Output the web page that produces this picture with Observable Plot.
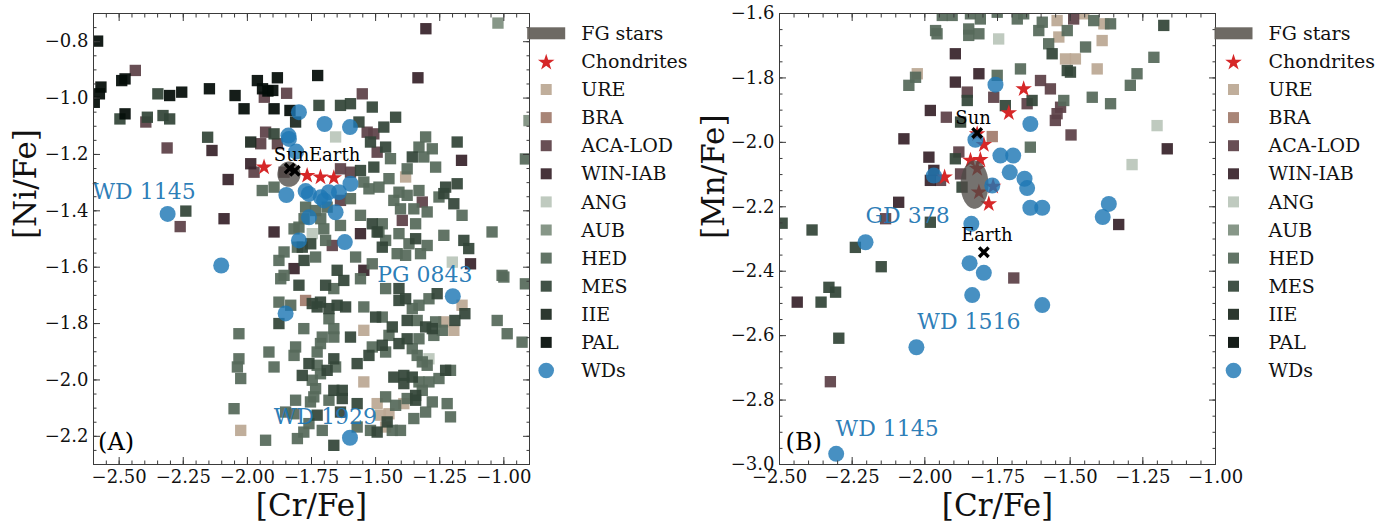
<!DOCTYPE html>
<html><head><meta charset="utf-8">
<script src="https://cdn.jsdelivr.net/npm/d3@7"></script>
<script src="https://cdn.jsdelivr.net/npm/@observablehq/plot@0.6"></script>
<style>
body{margin:0;background:#fff;}
#wrap{position:relative;width:1387px;height:524px;overflow:hidden;background:#fff;font-family:"DejaVu Serif";}
#wrap svg{position:absolute;top:0;overflow:visible;}
</style></head><body><div id="wrap"></div>
<script>
// ---------------- categories & colours ----------------
const categories = ["URE","BRA","ACA-LOD","WIN-IAB","ANG","AUB","HED","MES","IIE","PAL"];
const catColors = ["#bba893","#a17c6d","#5d4147","#38242b","#bac6ba","#7e8f7f","#56695a","#334538","#1c291f","#030c07"];
const legendLabels = ["FG stars","Chondrites","URE","BRA","ACA-LOD","WIN-IAB","ANG","AUB","HED","MES","IIE","PAL","WDs"];

// ---------------- tick labels ----------------
const xTicks = [-2.5,-2.25,-2.0,-1.75,-1.5,-1.25,-1.0];
const yTicksA = [-0.8,-1.0,-1.2,-1.4,-1.6,-1.8,-2.0,-2.2];
const yTicksB = [-1.6,-1.8,-2.0,-2.2,-2.4,-2.6,-2.8,-3.0];

// ---------------- Panel A: [Cr/Fe] vs [Ni/Fe] ----------------
const A_URE = [[-1.383,-1.280],[-1.546,-1.824],[-1.546,-2.007],[-1.494,-2.084],[-2.026,-2.179],[-1.163,-1.735],[-1.195,-1.824],[-1.234,-1.794],[-1.390,-2.084],[-1.481,-2.125],[-1.448,-2.120],[-1.461,-2.167]];
const A_BRA = [[-1.773,-1.718]];
const A_ACA = [[-2.437,-0.902],[-1.847,-0.983],[-1.934,-0.997],[-2.396,-1.085],[-2.313,-1.177],[-2.262,-1.456],[-1.552,-0.985],[-1.929,-1.121],[-1.948,-1.162],[-1.883,-1.162],[-1.533,-1.121],[-1.507,-1.127],[-1.494,-1.192],[-1.974,-1.263],[-1.637,-1.251],[-1.598,-1.263],[-1.637,-1.363],[-1.669,-1.523],[-1.318,-1.369],[-1.396,-1.434],[-1.857,-1.263]];
const A_WIN = [[-1.304,-0.754],[-1.335,-0.928],[-2.138,-1.186],[-2.075,-1.289],[-2.091,-1.428],[-1.987,-1.233],[-1.896,-1.475],[-1.559,-1.481],[-1.818,-1.605],[-1.546,-1.611],[-1.165,-1.221],[-1.130,-1.588]];
const A_ANG = [[-1.656,-1.138],[-1.747,-1.481],[-1.201,-1.582],[-1.292,-1.925]];
const A_AUB = [[-1.023,-0.734],[-0.902,-1.080]];
const A_HED = [[-0.916,-1.216],[-0.916,-1.659],[-0.929,-1.866],
[-1.942,-1.328],[-1.896,-1.316],[-1.546,-1.298],[-1.526,-1.322],[-1.598,-1.357],[-1.773,-1.387],[-1.779,-1.428],[-1.799,-1.458],[-1.714,-1.428],[-1.637,-1.452],[-1.559,-1.416],[-1.818,-1.464],[-1.702,-1.464],[-1.695,-1.505],[-1.877,-1.576],[-1.734,-1.564],[-1.578,-1.564],[-1.513,-1.588],[-1.857,-1.629],[-1.805,-1.529],[-1.734,-1.399],[-1.689,-1.387],[-1.857,-1.546],
[-1.442,-1.215],[-1.305,-1.138],[-1.331,-1.174],[-1.279,-1.180],[-1.312,-1.209],[-1.377,-1.251],[-1.266,-1.245],[-1.448,-1.286],[-1.487,-1.316],[-1.409,-1.334],[-1.377,-1.345],[-1.331,-1.328],[-1.253,-1.351],[-1.403,-1.393],[-1.351,-1.393],[-1.299,-1.404],[-1.163,-1.416],[-1.344,-1.446],[-1.487,-1.475],[-1.461,-1.505],[-1.409,-1.481],[-1.370,-1.517],[-1.299,-1.523],[-1.234,-1.487],[-1.046,-1.475],[-1.416,-1.552],[-1.383,-1.558],[-1.325,-1.552],[-1.007,-1.629],[-1.429,-1.363],[-1.474,-1.446],
[-1.870,-1.641],[-1.663,-1.676],[-1.559,-1.641],[-1.877,-1.724],[-1.831,-1.735],[-1.682,-1.783],[-1.546,-1.741],[-1.780,-1.818],[-1.663,-1.818],[-1.663,-1.848],[-1.708,-1.848],[-2.033,-1.836],[-1.916,-1.901],[-1.812,-1.883],[-1.818,-1.913],[-1.715,-1.871],[-1.728,-1.901],[-1.513,-1.883],[-2.033,-1.925],[-2.039,-1.954],[-1.896,-1.954],[-1.728,-1.948],[-1.715,-1.978],[-1.656,-1.954],[-2.026,-1.995],[-1.747,-2.001],[-1.734,-2.031],[-1.741,-2.060],[-1.754,-2.078],[-1.812,-2.072],[-1.682,-2.072],[-2.052,-2.102],[-1.851,-2.114],[-1.818,-2.120],[-1.760,-2.155],[-1.780,-2.185],[-1.708,-2.179],[-1.929,-2.214],[-1.805,-2.208],[-1.572,-2.167],[-1.520,-2.179],
[-1.292,-1.712],[-1.331,-1.735],[-1.357,-1.747],[-1.461,-1.676],[-1.240,-1.824],[-1.266,-1.794],[-1.273,-1.842],[-1.338,-1.789],[-1.474,-1.777],[-1.448,-1.842],[-1.331,-1.854],[-1.461,-1.901],[-1.357,-1.889],[-1.338,-1.913],[-1.318,-1.936],[-1.299,-1.948],[-1.208,-1.966],[-1.253,-1.995],[-1.292,-2.007],[-1.331,-2.007],[-1.318,-2.037],[-1.377,-2.066],[-1.461,-2.060],[-1.422,-2.090],[-1.279,-2.078],[-1.221,-2.084],[-1.305,-2.114],[-1.208,-2.131],[-1.351,-2.137],[-1.435,-2.179],[-1.403,-2.179],[-1.026,-1.789],[-0.987,-1.836],[-1.000,-1.635]];
const A_MES = [[-2.349,-0.985],[-2.497,-1.074],[-2.390,-1.068],[-2.329,-1.062],[-2.303,-1.074],[-2.155,-1.139],[-2.240,-1.401],
[-1.721,-1.026],[-1.637,-1.026],[-1.598,-1.020],[-1.513,-1.032],[-1.565,-1.085],[-1.896,-1.127],[-1.520,-1.156],[-1.559,-1.257],[-1.507,-1.245],[-1.513,-1.446],[-1.494,-1.475],[-1.779,-1.576],[-1.786,-1.529],[-1.650,-1.611],[-1.753,-1.517],
[-1.422,-1.068],[-1.468,-1.103],[-1.461,-1.174],[-1.182,-1.156],[-1.357,-1.209],[-1.227,-1.316],[-1.234,-1.339],[-1.182,-1.304],[-1.195,-1.375],[-1.344,-1.499],[-1.156,-1.505],[-1.137,-1.534],[-1.474,-1.529],
[-1.799,-1.664],[-1.695,-1.664],[-1.624,-1.647],[-1.747,-1.729],[-1.715,-1.724],[-1.682,-1.747],[-1.728,-1.741],[-1.650,-1.735],[-1.617,-1.741],[-1.877,-1.800],[-1.500,-1.777],[-1.598,-1.848],[-1.663,-1.925],[-1.526,-1.913],[-1.760,-1.942],[-1.689,-1.966],[-1.572,-1.942],[-1.786,-1.984],[-1.663,-2.037],[-1.630,-2.037],[-1.630,-2.066],[-1.572,-2.084],[-1.728,-2.125],[-1.637,-2.114],[-1.663,-2.232],
[-1.260,-1.694],[-1.409,-1.676],[-1.409,-1.718],[-1.383,-1.712],[-1.152,-1.765],[-1.191,-1.789],[-1.305,-1.812],[-1.279,-1.818],[-1.377,-1.789],[-1.435,-1.812],[-1.377,-1.854],[-1.409,-1.871],[-1.474,-1.877],[-1.227,-1.966],[-1.429,-1.990],[-1.390,-1.984],[-1.357,-1.990],[-1.390,-2.013],[-1.344,-2.055],[-1.344,-2.072],[-1.455,-2.149],[-1.494,-2.185]];
const A_IIE = [[-1.812,-1.085],[-1.987,-1.156]];
const A_PAL = [[-2.584,-0.798],[-2.571,-0.961],[-2.577,-0.985],[-2.597,-1.015],[-2.490,-0.938],[-2.477,-0.932],[-2.303,-0.991],[-2.256,-0.979],[-2.148,-0.967],[-2.048,-0.991],[-1.961,-0.938],[-1.941,-0.967],[-1.901,-0.973],[-1.883,-0.928],[-1.920,-0.975],[-1.726,-0.920],[-2.477,-1.056],[-2.013,-1.038],[-1.896,-1.038],[-1.834,-1.044]];
const A_Chondrites = [[-1.935,-1.245],[-1.767,-1.275],[-1.715,-1.281],[-1.663,-1.283]];
const A_WDs = [[-1.799,-1.050],[-1.699,-1.092],[-1.600,-1.103],[-1.840,-1.133],[-1.838,-1.145],[-1.810,-1.190],[-1.598,-1.304],[-1.848,-1.344],[-1.773,-1.330],[-1.760,-1.340],[-1.714,-1.352],[-1.682,-1.334],[-1.643,-1.334],[-1.701,-1.363],[-1.656,-1.405],[-1.760,-1.423],[-1.799,-1.505],[-1.620,-1.511],[-2.311,-1.411],[-2.102,-1.594],[-1.851,-1.764],[-1.199,-1.703],[-1.600,-2.205]];
const A_SunEarth = [[-1.835,-1.250],[-1.815,-1.258]];
const A_FG = {center:[-1.838,-1.270], rx:0.045, ry:0.045};
const A_labels = [
  {t:"WD 1145", x:-2.604, y:-1.334, k:"wd"},
  {t:"PG 0843", x:-1.494, y:-1.626, k:"wd"},
  {t:"WD 1929", x:-1.897, y:-2.132, k:"wd"},
  {t:"Sun", x:-1.897, y:-1.204, k:"sun"},
  {t:"Earth", x:-1.760, y:-1.204, k:"sun"},
  {t:"(A)", x:-2.582, y:-2.221, k:"panel"}];

// ---------------- Panel B: [Cr/Fe] vs [Mn/Fe] ----------------
const B_URE = [[-1.545,-1.622],[-1.453,-1.601],[-1.384,-1.632],[-1.539,-1.673],[-1.390,-1.684],[-1.516,-1.741],[-1.482,-1.741],[-2.026,-1.787],[-1.407,-1.772]];
const B_BRA = [[-1.768,-1.982]];
const B_ACA = [[-1.488,-1.617],[-1.854,-1.844],[-1.763,-1.860],[-1.648,-1.880],[-1.602,-1.808],[-1.568,-1.834],[-1.533,-1.891],[-1.545,-1.911],[-1.551,-1.932],[-1.926,-1.922],[-1.497,-1.977],[-1.883,-2.030],[-1.877,-2.098],[-1.946,-2.118],[-2.135,-2.237],[-2.325,-2.743],[-1.694,-2.421]];
const B_WIN = [[-1.895,-1.725],[-1.814,-1.787],[-1.895,-1.813],[-1.981,-1.901],[-2.072,-1.989],[-1.166,-2.020],[-1.986,-2.046],[-1.969,-2.087],[-1.981,-2.118],[-2.090,-2.186],[-1.333,-2.255],[-2.439,-2.496]];
const B_ANG = [[-1.746,-1.679],[-1.201,-1.948],[-1.287,-2.069]];
const B_AUB = [];
const B_HED = [[-1.940,-1.606],[-1.906,-1.606],[-1.843,-1.601],[-1.809,-1.617],[-1.751,-1.596],[-1.682,-1.617],[-1.660,-1.601],[-1.596,-1.627],[-1.419,-1.622],[-1.361,-1.632],[-1.963,-1.653],[-1.958,-1.663],[-1.849,-1.648],[-1.849,-1.668],[-1.814,-1.663],[-1.608,-1.653],[-1.510,-1.653],[-1.574,-1.694],[-1.447,-1.704],[-1.212,-1.736],[-2.032,-1.798],[-2.055,-1.823],[-1.751,-1.792],[-1.671,-1.772],[-1.270,-1.787],[-1.293,-1.823],[-1.522,-1.870],[-1.424,-1.860],[-1.361,-1.880],[-1.637,-2.015]];
const B_MES = [[-1.178,-1.637],[-1.562,-1.725],[-1.510,-1.777],[-1.499,-1.782],[-1.854,-1.870],[-1.723,-1.886],[-1.631,-1.870],[-1.877,-1.937],[-1.895,-2.051],[-1.872,-2.139],[-1.981,-2.248],[-2.388,-2.272],[-2.491,-2.251],[-2.239,-2.326],[-2.150,-2.386],[-2.330,-2.450],[-2.307,-2.465],[-2.357,-2.496],[-2.296,-2.608]];
const B_IIE = [];
const B_PAL = [];
const B_Chondrites = [[-1.660,-1.834],[-1.711,-1.909],[-1.820,-1.974],[-1.797,-2.007],[-1.843,-2.056],[-1.809,-2.054],[-1.820,-2.082],[-1.932,-2.108],[-1.765,-2.137],[-1.780,-2.191],[-1.814,-2.155]];
const B_WDs = [[-1.757,-1.821],[-1.637,-1.943],[-1.826,-1.992],[-1.740,-2.041],[-1.696,-2.041],[-1.708,-2.093],[-1.657,-2.113],[-1.648,-2.142],[-1.969,-2.103],[-1.768,-2.134],[-1.637,-2.203],[-1.596,-2.203],[-1.367,-2.191],[-1.388,-2.232],[-1.840,-2.253],[-2.204,-2.310],[-1.846,-2.375],[-1.797,-2.405],[-1.837,-2.474],[-1.596,-2.505],[-2.029,-2.636],[-2.305,-2.967]];
const B_SunEarth = [[-1.820,-1.971],[-1.797,-2.341]];
const B_FG = {center:[-1.829,-2.131], rx:0.048, ry:0.075};
const B_labels = [
  {t:"GD 378", x:-2.204, y:-2.227, k:"wd"},
  {t:"WD 1516", x:-2.026, y:-2.558, k:"wd"},
  {t:"WD 1145", x:-2.307, y:-2.889, k:"wd"},
  {t:"Sun", x:-1.895, y:-1.924, k:"sun"},
  {t:"Earth", x:-1.875, y:-2.287, k:"sun"},
  {t:"(B)", x:-2.479, y:-2.931, k:"panel"}];

// ---------------- drawing ----------------
const FONT = "DejaVu Serif";
const AX = "#3a3a3a";
const fmt2 = d3.format(".2f"), fmt1 = d3.format(".1f");

function ellipse(e){
  const n = 72;
  return d3.range(n).map(i => { const t = i / n * 2 * Math.PI; return [e.center[0] + e.rx*Math.cos(t), e.center[1] + e.ry*Math.sin(t)]; });
}
function tickMarks(xd, yd, yt){
  const none = () => "";
  const xMin = d3.range(Math.ceil(xd[0]/0.05 - 1e-6), Math.floor(xd[1]/0.05 + 1e-6) + 1).map(i => i*0.05);
  const yMin = d3.range(Math.ceil(yd[0]/0.05 - 1e-6), Math.floor(yd[1]/0.05 + 1e-6) + 1).map(i => i*0.05);
  const o = {stroke: AX, tickFormat: none, label: null};
  const out = [];
  for (const a of ["bottom","top"]) {
    out.push(Plot.axisX({...o, anchor: a, ticks: xTicks, tickSize: -7}));
    out.push(Plot.axisX({...o, anchor: a, ticks: xMin, tickSize: -3.5}));
  }
  for (const a of ["left","right"]) {
    out.push(Plot.axisY({...o, anchor: a, ticks: yt, tickSize: -7}));
    out.push(Plot.axisY({...o, anchor: a, ticks: yMin, tickSize: -3.5}));
  }
  return out;
}
function panel(cfg){
  const cats = cfg.cats;
  const squareMarks = categories.map((c, i) => Plot.dot(cats[i], {x: d => d[0], y: d => d[1], symbol: "square", r: 6.4, fill: catColors[i], fillOpacity: 0.93, stroke: "none", clip: true}));
  const lab = cfg.labels;
  const svg = Plot.plot({
    width: cfg.width, height: 524,
    marginLeft: cfg.ml, marginRight: cfg.mr, marginTop: 13, marginBottom: 60,
    x: {domain: cfg.xd, axis: null},
    y: {domain: cfg.yd, axis: null},
    style: {background: "transparent", overflow: "visible"},
    marks: [
      ...squareMarks,
      Plot.dot(cfg.chond, {x: d => d[0], y: d => d[1], symbol: "star", r: 5.2, fill: "#d62728", stroke: "none", clip: true}),
      Plot.line(ellipse(cfg.fg), {x: d => d[0], y: d => d[1], curve: "linear-closed", fill: "#4e4a46", fillOpacity: 0.78, stroke: "none"}),
      Plot.dot(cfg.wds, {x: d => d[0], y: d => d[1], r: 8, fill: "#1f77b4", fillOpacity: 0.82, stroke: "none", clip: true}),
      Plot.dot(cfg.se, {x: d => d[0], y: d => d[1], symbol: "times", r: 4.4, stroke: "#000", strokeWidth: 3.4}),
      Plot.text(lab.filter(d => d.k === "wd"), {x: "x", y: "y", text: "t", textAnchor: "start", lineAnchor: "middle", fontSize: 22, fill: "#1f77b4", fillOpacity: 0.95}),
      Plot.text(lab.filter(d => d.k === "sun"), {x: "x", y: "y", text: "t", textAnchor: "start", lineAnchor: "middle", fontSize: 18, fill: "#000"}),
      Plot.text(lab.filter(d => d.k === "panel"), {x: "x", y: "y", text: "t", textAnchor: "start", lineAnchor: "middle", fontSize: 24, fill: "#000"}),
      Plot.frame({stroke: AX, strokeWidth: 1}),
      ...tickMarks(cfg.xd, cfg.yd, cfg.yt),
      Plot.axisX({anchor: "bottom", ticks: xTicks, tickSize: 0, tickPadding: 6, tickFormat: fmt2, fontSize: 18, fill: "#111", label: null}),
      Plot.axisY({anchor: "left", ticks: cfg.yt, tickSize: 0, tickPadding: 5, tickFormat: fmt1, fontSize: 18, fill: "#111", label: null}),
      Plot.text([cfg.xl], {frameAnchor: "bottom", dy: 42, text: d => d, fontSize: 31, lineAnchor: "middle", fill: "#111"}),
      Plot.text([cfg.yl], {frameAnchor: "left", dx: cfg.yldx, rotate: -90, text: d => d, fontSize: 31, lineAnchor: "middle", fill: "#111"})
    ]
  });
  // force the serif face on every text element Plot produced
  d3.select(svg).attr("font-family", FONT).style("font-family", FONT);
  d3.select(svg).selectAll("g").attr("font-family", FONT);
  d3.select(svg).selectAll("text").attr("font-family", FONT).each(function(){ this.style.setProperty("font-family", FONT, "important"); this.style.setProperty("font-variant", "normal"); });
  return svg;
}

const wrap = document.getElementById("wrap");
const svgA = panel({width: 540, ml: 93, mr: 11, xd: [-2.6, -0.9], yd: [-2.3, -0.7], yt: yTicksA,
  cats: [A_URE, A_BRA, A_ACA, A_WIN, A_ANG, A_AUB, A_HED, A_MES, A_IIE, A_PAL],
  chond: A_Chondrites, wds: A_WDs, se: A_SunEarth, fg: A_FG, labels: A_labels,
  xl: "[Cr/Fe]", yl: "[Ni/Fe]", yldx: -67});
svgA.style.left = "0px";
wrap.appendChild(svgA);
const svgB = panel({width: 540, ml: 89, mr: 15, xd: [-2.5, -1.0], yd: [-3.0, -1.6], yt: yTicksB,
  cats: [B_URE, B_BRA, B_ACA, B_WIN, B_ANG, B_AUB, B_HED, B_MES, B_IIE, B_PAL],
  chond: B_Chondrites, wds: B_WDs, se: B_SunEarth, fg: B_FG, labels: B_labels,
  xl: "[Cr/Fe]", yl: "[Mn/Fe]", yldx: -65});
svgB.style.left = "690px";
wrap.appendChild(svgB);

// ---------------- legends ----------------
const leg = d3.select(wrap).append("svg").attr("width", 1387).attr("height", 524).style("left", "0px");
const legendColors = ["#66625c", "#d62728", ...catColors, "#1f77b4"];
function drawLegend(x0){
  const g = leg.append("g").attr("transform", `translate(${x0},0)`);
  legendLabels.forEach((lbl, i) => {
    const y = 33.3 + i * 28.1;
    const c = legendColors[i];
    if (i === 0) {
      g.append("rect").attr("x", -19).attr("y", y - 6).attr("width", 38).attr("height", 12).attr("fill", c).attr("fill-opacity", 0.95);
    } else if (i === 1) {
      g.append("path").attr("d", d3.symbol(d3.symbolStar, 85)()).attr("transform", `translate(0,${y + 1})`).attr("fill", c);
    } else if (i === legendLabels.length - 1) {
      g.append("circle").attr("cx", 0).attr("cy", y).attr("r", 7.8).attr("fill", c).attr("fill-opacity", 0.82);
    } else {
      g.append("rect").attr("x", -5.5).attr("y", y - 5.5).attr("width", 11).attr("height", 11).attr("fill", c).attr("fill-opacity", 0.93);
    }
    g.append("text").attr("x", 35).attr("y", y).attr("dy", "0.35em").attr("font-family", FONT).attr("font-size", 19).attr("fill", "#111").text(lbl);
  });
}
drawLegend(546.2);
drawLegend(1233.5);
</script></body></html>
